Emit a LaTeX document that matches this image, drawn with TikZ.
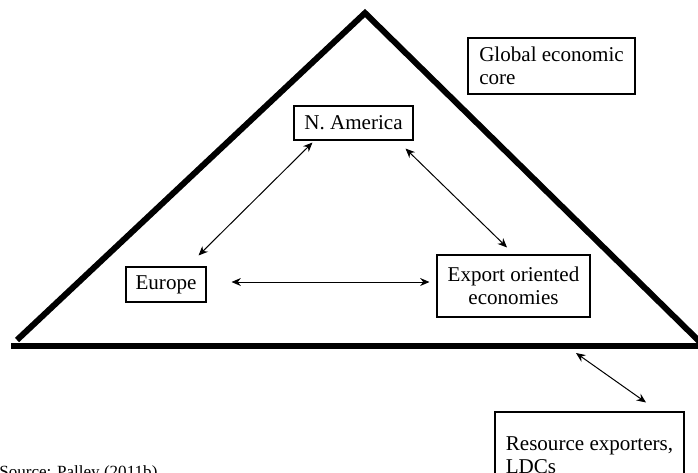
\documentclass[tikz,border=0pt]{standalone}
\usepackage{fontspec}
\setmainfont{Liberation Serif}
\usepackage{xcolor}
\usetikzlibrary{arrows.meta}

\begin{document}
\begin{tikzpicture}[x=0.75pt, y=-0.75pt,
      box/.style={draw, line width=0.8pt, inner sep=0pt,
        font=\fontsize{15.8}{17.2}\selectfont},
      edge/.style={line width=4.5pt},
      link/.style={{Stealth[length=7pt,width=6pt]}-{Stealth[length=7pt,width=6pt]}, line width=0.75pt}
      ]
      \useasboundingbox (0,0) rectangle (698,472);
      \coordinate (apex) at (365,13);
      \coordinate (left) at (17,340);
      \coordinate (right) at (702,344);
      \coordinate (bl) at (11,346);
      \coordinate (br) at (700,346);
      \coordinate (bp) at (576,353);
      \draw[edge] (left) -- (apex) -- (right);
      \draw[edge] (bl) -- (br);
      \node[box, minimum width=125.25pt, minimum height=42pt, align=left] (core) at (551.5,66) {Global economic\\core};
      \node[box, minimum width=89.25pt, minimum height=25.5pt] (na) at (353.5,123) {N. America};
      \node[box, minimum width=60pt, minimum height=26.25pt] (eu) at (166,284.5) {Europe};
      \node[box, minimum width=114.75pt, minimum height=46.5pt, align=center] (ex) at (513.5,286) {Export oriented\\economies};
      \node[box, minimum width=141.75pt, minimum height=64.5pt, align=left] (res) at (589.5,455) {Resource exporters,\\LDCs};
      \node[anchor=base west, inner sep=0pt, font=\fontsize{12.8}{15}\selectfont] (src) at (-1,477) {Source: Palley (2011b)};
      \draw[link] ([shift={(-8,-11)}]eu.north east) -- ([shift={(19,2)}]na.south west);
      \draw[link] ([shift={(-8,8)}]na.south east) -- ([shift={(-6.5,-7)}]ex.north);
      \draw[link] ([shift={(25,-2.5)}]eu.east) -- ([shift={(-7,-4)}]ex.west);
      \draw[link] (bp) -- ([shift={(56.5,-9)}]res.north);
    \end{tikzpicture}
\end{document}
